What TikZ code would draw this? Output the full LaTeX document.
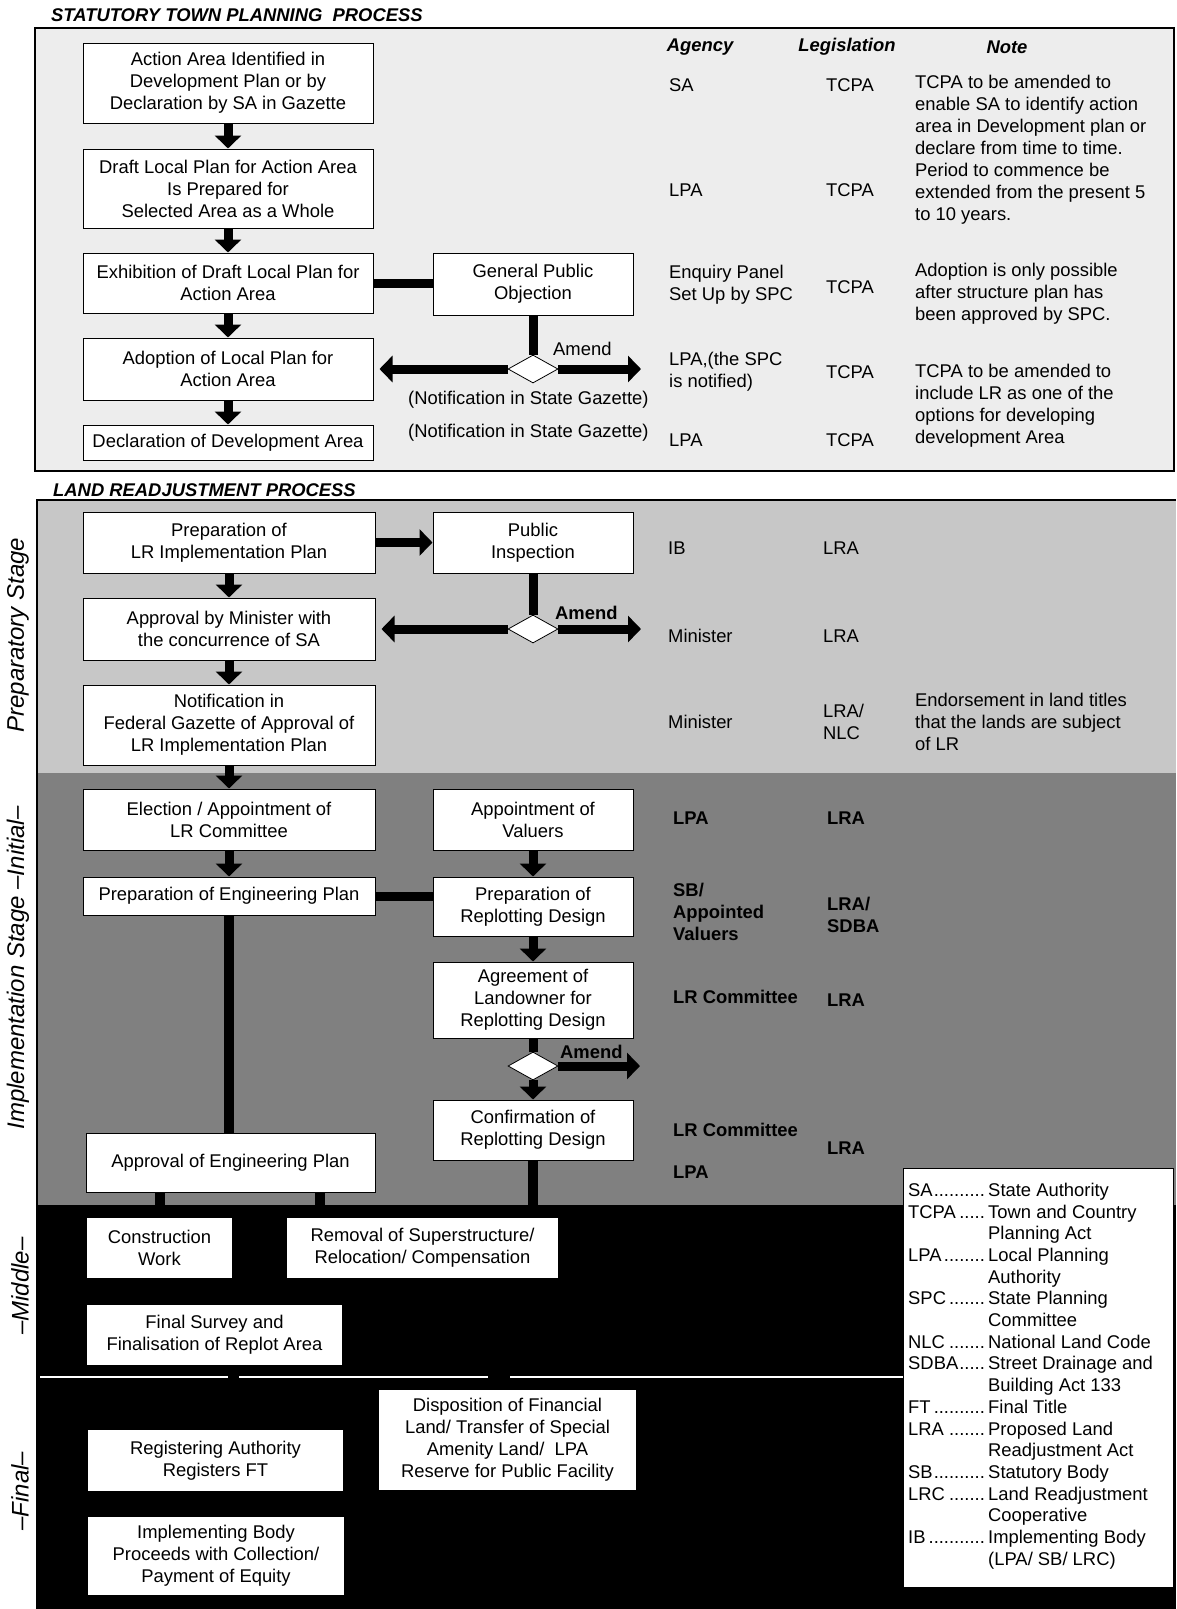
\documentclass[tikz,border=0pt]{standalone}
\usepackage{fontspec}
\setmainfont{Liberation Sans}
\usetikzlibrary{arrows.meta,shapes.geometric,calc}
\newcommand\txtf{\fontsize{18.4pt}{22pt}\selectfont}
\newcommand\legf{\fontsize{18.4pt}{21.7pt}\selectfont}
\newcommand\labf{\fontsize{24pt}{28pt}\selectfont\itshape}
\newcommand\legline[2]{\hbox to 80pt{#1\leaders\hbox{.}\hfil}#2}
\newcommand\mkbox[7][bx]{\node[#1, minimum width={(#5)-(#3)}, minimum height={(#6)-(#4)}] (#2) at ({((#3)+(#5))/2},{((#4)+(#6))/2}) {#7};}
\tikzset{
  bx/.style={draw, line width=1pt, fill=white, align=center, inner sep=0pt, font=\txtf},
  bxw/.style={fill=white, align=center, inner sep=0pt, font=\txtf},
  tx/.style={anchor=west, inner sep=0pt, align=left, font=\txtf},
  txb/.style={anchor=west, inner sep=0pt, align=left, font=\txtf\bfseries},
  hd/.style={inner sep=0pt, font=\txtf\bfseries\itshape},
  dm/.style={diamond, draw, line width=0.8pt, fill=white, inner sep=0pt, minimum width=50pt, minimum height=28pt},
  harr/.style={line width=9pt, -{Triangle[width=26pt,length=13pt]}},
  thk/.style={line width=9pt},
  lab/.style={rotate=90, inner sep=0pt, font=\labf}
}
\begin{document}
\begin{tikzpicture}[x=1pt,y=-1pt]
\useasboundingbox (0,0) rectangle (1176,1609);
\fill[white] (0,0) rectangle (1176,1609);
% backgrounds
\fill[black!7] (35,28) rectangle (1174,471);
\draw[line width=2pt] (35,28) rectangle (1174,471);
\fill[black!22] (37,500) rectangle (1176,773);
\fill[black!50] (37,773) rectangle (1176,1205);
\fill[black] (37,1205) rectangle (1176,1609);
\draw[line width=1.5pt] (1176,500) -- (37,500) -- (37,1609);
\draw[white, line width=1.2pt] (40,1377) -- (228,1377) (239,1377) -- (488,1377) (510,1377) -- (903,1377);

% titles and headers
\node[hd, anchor=west] (t1) at (51,15) {STATUTORY TOWN PLANNING\ \ PROCESS};
\node[hd, anchor=west] (t2) at (53,490) {LAND READJUSTMENT PROCESS};
\node[hd] (hA) at (700,47) {Agency};
\node[hd] (hL) at (847,47) {Legislation};
\node[hd] (hN) at (1007,47) {Note};

% side labels
\node[lab] (l1) at (18,635) {Preparatory Stage};
\node[lab] (l2) at (18,968) {Implementation Stage –Initial–};
\node[lab] (l3) at (20,1286) {–Middle–};
\node[lab] (l4) at (20,1491) {–Final–};

% statutory town planning boxes
\mkbox{A1}{83}{43}{373}{123}{Action Area Identified in\\Development Plan or by\\Declaration by SA in Gazette}
\mkbox{A2}{83}{149}{373}{228}{Draft Local Plan for Action Area\\Is Prepared for\\Selected Area as a Whole}
\mkbox{A3}{83}{253}{373}{313}{Exhibition of Draft Local Plan for\\Action Area}
\mkbox{GPO}{433}{253}{633}{315}{General Public\\Objection}
\mkbox{A4}{83}{338}{373}{400}{Adoption of Local Plan for\\Action Area}
\mkbox{A5}{83}{425}{373}{460}{Declaration of Development Area}
\node[dm] (D1) at (533,369) {};
\coordinate (e1) at (641,369);
\node[tx] (am1) at (553,349) {Amend};
\node[tx] (nf1) at (408,400) {(Notification in State Gazette)};
\node[tx] (nf2) at (408,433) {(Notification in State Gazette)};

\draw[harr] (A1.south) -- (A2.north);
\draw[harr] (A2.south) -- (A3.north);
\draw[harr] (A3.south) -- (A4.north);
\draw[harr] (A4.south) -- (A5.north);
\draw[thk] (A3.east) -- (A3.east -| GPO.west);
\draw[thk] (GPO.south) -- (D1.north);
\draw[harr, shorten >=6pt] (D1.west) -- (D1.west -| A4.east);
\draw[harr] (D1.east) -- (e1);

% statutory columns
\node[tx] (ag1) at (669,85) {SA};
\node[tx] (lg1) at (826,85) {TCPA};
\node[tx] (nt1) at (915,150) {TCPA to be amended to\\enable SA to identify action\\area in Development plan or\\declare from time to time.\\Period to commence be\\extended from the present 5\\to 10 years.};
\node[tx] (ag2) at (669,190) {LPA};
\node[tx] (lg2) at (826,190) {TCPA};
\node[tx] (ag3) at (669,285) {Enquiry Panel\\Set Up by SPC};
\node[tx] (lg3) at (826,287) {TCPA};
\node[tx] (nt3) at (915,294) {Adoption is only possible\\after structure plan has\\been approved by SPC.};
\node[tx] (ag4) at (669,372) {LPA,(the SPC\\is notified)};
\node[tx] (lg4) at (826,372) {TCPA};
\node[tx] (nt4) at (915,406) {TCPA to be amended to\\include LR as one of the\\options for developing\\development Area};
\node[tx] (ag5) at (669,440) {LPA};
\node[tx] (lg5) at (826,440) {TCPA};

% preparatory stage
\mkbox{B1}{83}{512}{375}{573}{Preparation of\\LR Implementation Plan}
\mkbox{PI}{433}{512}{633}{573}{Public\\Inspection}
\mkbox{B2}{83}{598}{375}{660}{Approval by Minister with\\the concurrence of SA}
\mkbox{B3}{83}{685}{375}{765}{Notification in\\Federal Gazette of Approval of\\LR Implementation Plan}
\node[dm] (D2) at (533,629) {};
\coordinate (e2) at (641,629);
\node[txb] (am2) at (555,613) {Amend};
\draw[harr] (B1.east) -- (PI.west);
\draw[harr] (B1.south) -- (B2.north);
\draw[harr] (B2.south) -- (B3.north);
\draw[thk] (PI.south) -- (D2.north);
\draw[harr, shorten >=6pt] (D2.west) -- (D2.west -| B2.east);
\draw[harr] (D2.east) -- (e2);

\node[tx] (ib) at (668,548) {IB};
\node[tx] (lra1) at (823,548) {LRA};
\node[tx] (min1) at (668,636) {Minister};
\node[tx] (lra2) at (823,636) {LRA};
\node[tx] (min2) at (668,722) {Minister};
\node[tx] (lra3) at (823,722) {LRA/\\NLC};
\node[tx] (nt5) at (915,722) {Endorsement in land titles\\that the lands are subject\\of LR};

% implementation initial
\mkbox{C1}{83}{789}{375}{850}{Election / Appointment of\\LR Committee}
\mkbox{V1}{433}{789}{633}{850}{Appointment of\\Valuers}
\mkbox{C2}{83}{877}{375}{915}{Preparation of Engineering Plan}
\mkbox{R1}{433}{877}{633}{936}{Preparation of\\Replotting Design}
\mkbox{R2}{433}{962}{633}{1038}{Agreement of\\Landowner for\\Replotting Design}
\mkbox{R3}{433}{1100}{633}{1160}{Confirmation of\\Replotting Design}
\mkbox{AP}{86}{1133}{375}{1192}{Approval of Engineering Plan}
\node[dm] (D3) at (533,1066) {};
\coordinate (e3) at (640,1066);
\node[txb] (am3) at (560,1052) {Amend};
\draw[harr] (B3.south) -- (C1.north);
\draw[harr] (C1.south) -- (C2.north);
\draw[harr] (V1.south) -- (R1.north);
\draw[thk] (C2.east) -- (C2.east -| R1.west);
\draw[harr] (R1.south) -- (R2.north);
\draw[thk] (R2.south) -- (D3.north);
\draw[harr] (D3.east) -- (e3);
\draw[harr] (D3.south) -- (R3.north);
\draw[line width=10pt] (C2.south) -- (C2.south |- AP.north);

\node[txb] (ia1) at (673,818) {LPA};
\node[txb] (il1) at (827,818) {LRA};
\node[txb] (ia2) at (673,912) {SB/\\Appointed\\Valuers};
\node[txb] (il2) at (827,915) {LRA/\\SDBA};
\node[txb] (ia3) at (673,997) {LR Committee};
\node[txb] (il3) at (827,1000) {LRA};
\node[txb] (ia4) at (673,1130) {LR Committee};
\node[txb] (il4) at (827,1148) {LRA};
\node[txb] (ia5) at (673,1172) {LPA};

% middle
\mkbox[bxw]{CW}{87}{1218}{232}{1278}{Construction\\Work}
\mkbox[bxw]{RM}{287}{1218}{558}{1278}{Removal of Superstructure/\\Relocation/ Compensation}
\mkbox[bxw]{FS}{87}{1305}{342}{1365}{Final Survey and\\Finalisation of Replot Area}
\coordinate (rmin) at (320,1218);
\draw[line width=10pt] (AP.south -| CW.north) -- (CW.north);
\draw[line width=10pt] (AP.south -| rmin) -- (rmin);
\draw[line width=10pt] (R3.south) -- (R3.south |- RM.north);

% final
\mkbox[bxw]{DP}{379}{1390}{636}{1490}{Disposition of Financial\\Land/ Transfer of Special\\Amenity Land/\ \ LPA\\Reserve for Public Facility}
\mkbox[bxw]{RA}{88}{1430}{343}{1491}{Registering Authority\\Registers FT}
\mkbox[bxw]{IBx}{88}{1517}{344}{1595}{Implementing Body\\Proceeds with Collection/\\Payment of Equity}

% legend
\node[draw, line width=1pt, fill=white, inner sep=0pt, minimum width=270pt, minimum height=419pt] (legend) at (1038,1377.5) {};
\node[anchor=west, align=left, inner sep=0pt, font=\legf] (legtext) at (908,1376) {%
\legline{SA}{State Authority}\\
\legline{TCPA}{Town and Country}\\
\hspace*{80pt}Planning Act\\
\legline{LPA}{Local Planning}\\
\hspace*{80pt}Authority\\
\legline{SPC}{State Planning}\\
\hspace*{80pt}Committee\\
\legline{NLC}{National Land Code}\\
\legline{SDBA}{Street Drainage and}\\
\hspace*{80pt}Building Act 133\\
\legline{FT}{Final Title}\\
\legline{LRA}{Proposed Land}\\
\hspace*{80pt}Readjustment Act\\
\legline{SB}{Statutory Body}\\
\legline{LRC}{Land Readjustment}\\
\hspace*{80pt}Cooperative\\
\legline{IB}{Implementing Body}\\
\hspace*{80pt}(LPA/ SB/ LRC)};
\end{tikzpicture}
\end{document}
